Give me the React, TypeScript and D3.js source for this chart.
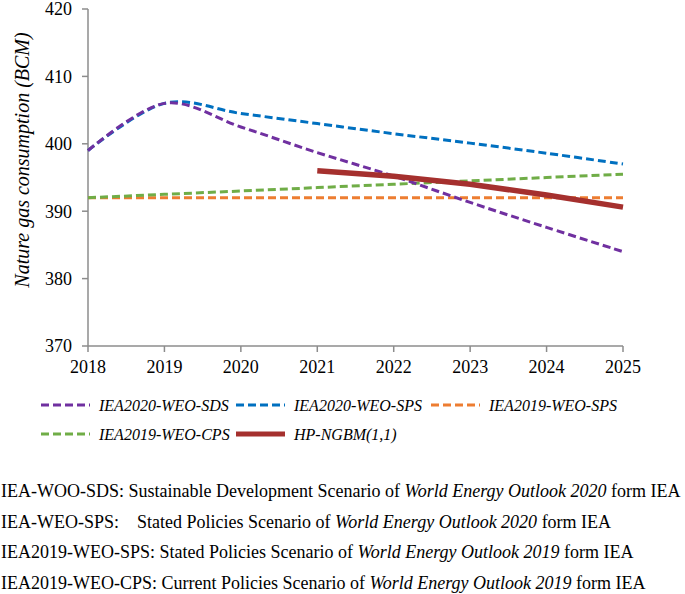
import React from "react";
import * as d3 from "d3";

const years = [2018, 2019, 2020, 2021, 2022, 2023, 2024, 2025];
const yTicks = [370, 380, 390, 400, 410, 420];

const sds2020 = [399, 406, 402.5, 398.7, 395.2, 391.3, 387.6, 384];
const sps2020 = [399, 406, 404.5, 403, 401.5, 400.1, 398.6, 397];
const sps2019 = [392, 392, 392, 392, 392, 392, 392, 392];
const cps2019 = [392, 392.5, 393, 393.5, 394, 394.5, 395, 395.5];
const hpYears = [2021, 2022, 2023, 2024, 2025];
const hpNgbm = [396, 395.2, 394, 392.4, 390.6];

const seriesNames = ["IEA2020-WEO-SDS", "IEA2020-WEO-SPS", "IEA2019-WEO-SPS", "IEA2019-WEO-CPS", "HP-NGBM(1,1)"];
const seriesColors = ["#7030A0", "#0070C0", "#ED7D31", "#70AD47", "#A5302E"];

const footnotes = [
  { head: "IEA-WOO-SDS: Sustainable Development Scenario of ", gapX: null, ital: "World Energy Outlook 2020", tail: " form IEA" },
  { head: "IEA-WEO-SPS:", gapX: 137, mid: "Stated Policies Scenario of ", ital: "World Energy Outlook 2020", tail: " form IEA" },
  { head: "IEA2019-WEO-SPS: Stated Policies Scenario of ", gapX: null, ital: "World Energy Outlook 2019", tail: " form IEA" },
  { head: "IEA2019-WEO-CPS: Current Policies Scenario of ", gapX: null, ital: "World Energy Outlook 2019", tail: " form IEA" },
];

const W = 685;
const H = 594;
const FONT = "'Liberation Serif', 'Times New Roman', serif";

export default function App() {
  const x = d3.scaleLinear().domain([2018, 2025]).range([88, 623]);
  const y = d3.scaleLinear().domain([370, 420]).range([346, 9]);

  const mk = (xs: number[], vs: number[], smooth: boolean) =>
    d3
      .line<number>()
      .x((_, i) => x(xs[i]))
      .y((v) => y(v))
      .curve(smooth ? d3.curveCardinal.tension(0) : d3.curveLinear)(vs) || "";

  const series = [
    { xs: years, vs: sds2020, smooth: true },
    { xs: years, vs: sps2020, smooth: true },
    { xs: years, vs: sps2019, smooth: false },
    { xs: years, vs: cps2019, smooth: false },
  ];

  const axisColor = "#8c8c8c";
  const dash = "8,4";

  const legendItems = seriesNames.map((name, i) => ({
    name,
    color: seriesColors[i],
    col: i % 3,
    row: Math.floor(i / 3),
    solid: i === 4,
  }));

  return (
    <svg
      width={W}
      height={H}
      style={{ position: "absolute", left: 0, top: 0, display: "block", background: "#fff" }}
      fontFamily={FONT}
    >
      {/* axes */}
      <line x1={x(2018)} x2={x(2018)} y1={y(420)} y2={y(370)} stroke={axisColor} strokeWidth={1.5} />
      <line x1={x(2018)} x2={x(2025)} y1={y(370)} y2={y(370)} stroke={axisColor} strokeWidth={1.5} />
      {yTicks.map((t) => (
        <g key={"y" + t}>
          <line x1={x(2018) - 6} x2={x(2018)} y1={y(t)} y2={y(t)} stroke={axisColor} strokeWidth={1.5} />
          <text x={x(2018) - 16} y={y(t)} dy="0.35em" textAnchor="end" fontSize={18} fill="#000">
            {t}
          </text>
        </g>
      ))}
      {years.map((yr) => (
        <g key={"x" + yr}>
          <line x1={x(yr)} x2={x(yr)} y1={y(370)} y2={y(370) + 6} stroke={axisColor} strokeWidth={1.5} />
          <text x={x(yr)} y={373} textAnchor="middle" fontSize={18} fill="#000">
            {yr}
          </text>
        </g>
      ))}
      <text
        transform={`translate(29,160) rotate(-90)`}
        textAnchor="middle"
        fontSize={20}
        fontStyle="italic"
        fill="#000"
      >
        Nature gas consumption (BCM)
      </text>

      {/* series: draw in order orange, green, blue, purple, red */}
      {[2, 3, 1, 0].map((i) => (
        <path
          key={"s" + i}
          d={mk(series[i].xs, series[i].vs, series[i].smooth)}
          fill="none"
          stroke={seriesColors[i]}
          strokeWidth={3}
          strokeDasharray={dash}
        />
      ))}
      <path d={mk(hpYears, hpNgbm, false)} fill="none" stroke={seriesColors[4]} strokeWidth={5.5} />

      {/* legend */}
      {legendItems.map((it) => {
        const lx = 41 + it.col * 195;
        const ly = it.row === 0 ? 405 : 434;
        return (
          <g key={"lg" + it.name}>
            <line
              x1={lx}
              x2={lx + 49}
              y1={ly}
              y2={ly}
              stroke={it.color}
              strokeWidth={it.solid ? 5 : 3}
              strokeDasharray={it.solid ? undefined : dash}
            />
            <text x={lx + 58} y={ly} dy="0.35em" fontSize={16} fontStyle="italic" fill="#000">
              {it.name}
            </text>
          </g>
        );
      })}

      {/* footnotes */}
      {footnotes.map((f, i) => (
        <text key={"fn" + i} x={1} y={497 + i * 30.7} fontSize={18} fill="#000">
          <tspan>{f.head}</tspan>
          {f.gapX != null ? <tspan x={f.gapX}>{f.mid}</tspan> : null}
          <tspan fontStyle="italic">{f.ital}</tspan>
          <tspan>{f.tail}</tspan>
        </text>
      ))}
    </svg>
  );
}
